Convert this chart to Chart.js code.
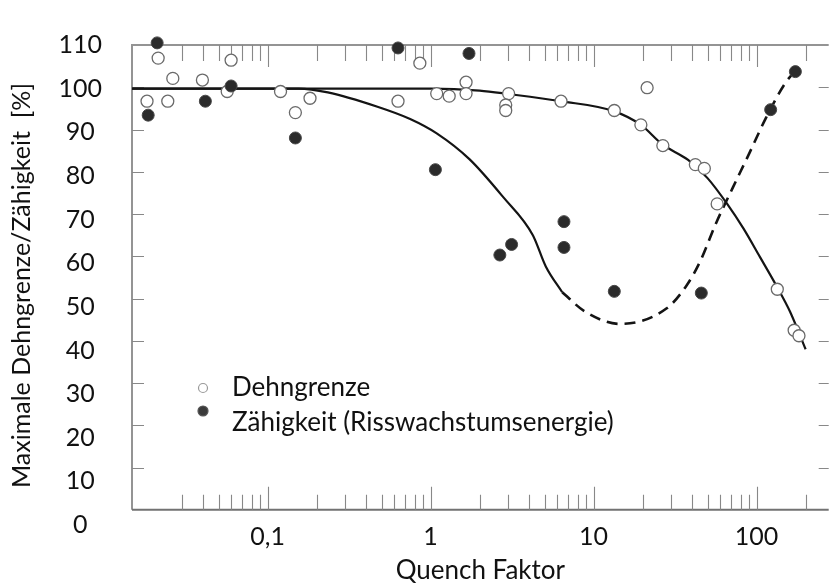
<!DOCTYPE html>
<html lang="de">
<head>
<meta charset="UTF-8">
<title>Quench Faktor</title>
<script src="https://cdn.jsdelivr.net/npm/chart.js@4.4.1/dist/chart.umd.min.js"></script>
<style>
  html, body { margin: 0; padding: 0; background: #fff; }
  #wrap { width: 836px; height: 588px; }
</style>
</head>
<body>
<div id="wrap"><canvas id="chart" width="836" height="588"></canvas></div>
<script>
// Messpunkte Dehngrenze (offene Kreise)
const dehnX = [0.0182, 0.0213, 0.0244, 0.0262, 0.0398, 0.0565, 0.0597, 0.120, 0.148, 0.182,
               0.631, 0.859, 1.09, 1.30, 1.65, 1.65, 3.01, 2.89, 2.89, 6.31,
               13.4, 21.3, 19.5, 26.6, 42.1, 47.8, 57.3, 134, 170, 182];
const dehnY = [96.7, 106.9, 96.7, 102.1, 101.7, 99.0, 106.4, 99.0, 94.0, 97.4,
               96.7, 105.7, 98.5, 97.9, 101.2, 98.5, 98.5, 95.8, 94.5, 96.7,
               94.5, 99.9, 91.1, 86.2, 81.7, 80.8, 72.4, 52.2, 42.5, 41.2];

// Messpunkte Zähigkeit (gefüllte Kreise)
const zaehX = [0.0185, 0.021, 0.0415, 0.0597, 0.148, 0.631, 1.07, 1.72, 2.66, 3.14,
               6.58, 6.58, 13.4, 45.8, 122, 173];
const zaehY = [93.4, 110.5, 96.7, 100.3, 88.0, 109.3, 80.5, 108.0, 60.3, 62.8,
               68.2, 62.1, 51.7, 51.3, 94.7, 103.7];

// Ausgleichskurven
const dehnKurveX = [0.0147, 1.0, 2.0, 3.0, 6.3, 13.4, 19.5, 26.6, 38, 50, 66, 83, 105, 132, 160, 200];
const dehnKurveY = [99.7, 99.7, 99.2, 98.4, 96.7, 94.3, 91.1, 86.4, 82.8, 78.5, 72.4, 66.6, 59.8, 53.1, 47.0, 38.0];

const zaehKurveX = [0.0147, 0.155, 0.234, 0.472, 0.749, 1.09, 1.73, 2.79, 4.24, 5.09, 6.42];
const zaehKurveY = [99.7, 99.7, 98.8, 95.4, 92.5, 89.1, 83.0, 74.0, 65.0, 57.6, 51.5];

const zaehStrichX = [6.42, 8.8, 14.5, 28.1, 37.2, 45.2, 56.5, 71.6, 90.8, 114, 150, 173];
const zaehStrichY = [51.5, 47.0, 44.0, 47.7, 53.1, 58.9, 67.9, 76.3, 84.6, 92.7, 101.0, 103.9];

// Achsen
const xTickWerte = [0.1, 1, 10, 100];
const xTickLabels = ['0,1', '1', '10', '100'];
const yTickWerte = [0, 10, 20, 30, 40, 50, 60, 70, 80, 90, 100, 110];

const schrift = 'Lato';

// Teilstriche der log. Achse (0,03 ... 200)
const teilstricheX = [];
[0.01, 0.1, 1, 10, 100].forEach(d => {
  for (let m = 1; m <= 9; m++) {
    const v = +(d * m).toPrecision(3);
    if (v >= 0.03 && v <= 200) teilstricheX.push(v);
  }
});

const punkte = (xs, ys) => xs.map((x, i) => ({ x: x, y: ys[i] }));

// Rahmen mit nach innen zeigenden Teilstrichen
const rahmen = {
  id: 'rahmen',
  beforeDatasetsDraw(chart) {
    const { ctx, chartArea: a, scales: { x, y } } = chart;
    const oben = y.getPixelForValue(110);
    const unten = y.getPixelForValue(0);
    ctx.save();
    ctx.strokeStyle = '#949494';
    ctx.lineWidth = 2;
    ctx.beginPath();
    ctx.moveTo(a.right, oben);
    ctx.lineTo(a.left, oben);
    ctx.lineTo(a.left, unten);
    ctx.stroke();
    ctx.strokeStyle = '#727272';
    ctx.beginPath();
    ctx.moveTo(a.left, unten);
    ctx.lineTo(a.right, unten);
    ctx.stroke();

    ctx.strokeStyle = '#888';
    ctx.lineWidth = 1.1;
    teilstricheX.forEach(v => {
      const px = Math.round(x.getPixelForValue(v)) + 0.5;
      const haupt = xTickWerte.includes(v);
      ctx.beginPath();
      ctx.moveTo(px, oben);
      ctx.lineTo(px, oben + (haupt ? 22 : 16));
      ctx.moveTo(px, unten);
      ctx.lineTo(px, unten - (haupt ? 23 : 15));
      ctx.stroke();
    });
    yTickWerte.filter(v => v > 0 && v < 110).forEach(v => {
      const py = Math.round(y.getPixelForValue(v)) + 0.5;
      ctx.beginPath();
      ctx.moveTo(a.left, py);
      ctx.lineTo(a.left + 12, py);
      ctx.moveTo(a.right, py);
      ctx.lineTo(a.right - 10, py);
      ctx.stroke();
    });
    ctx.restore();
  }
};

// Legende im Diagramm
const legende = {
  id: 'legende',
  afterDraw(chart) {
    const ctx = chart.ctx;
    ctx.save();
    ctx.lineWidth = 1.2;
    ctx.strokeStyle = '#9a9a9a';
    ctx.fillStyle = '#fff';
    ctx.beginPath();
    ctx.arc(203, 388, 4.5, 0, Math.PI * 2);
    ctx.fill();
    ctx.stroke();
    ctx.fillStyle = '#3a3a3a';
    ctx.strokeStyle = '#555';
    ctx.beginPath();
    ctx.arc(203, 411, 5, 0, Math.PI * 2);
    ctx.fill();
    ctx.stroke();

    ctx.fillStyle = '#111';
    ctx.font = '26px ' + schrift;
    ctx.textBaseline = 'middle';
    ctx.textAlign = 'left';
    ctx.fillText('Dehngrenze', 232, 388);
    ctx.fillText('Zähigkeit (Risswachstumsenergie)', 232, 423);
    ctx.restore();
  }
};

const kurve = {
  type: 'line',
  showLine: true,
  pointRadius: 0,
  borderColor: '#141414',
  borderWidth: 2.2,
  cubicInterpolationMode: 'monotone',
  fill: false,
  order: 2
};

new Chart(document.getElementById('chart'), {
  type: 'scatter',
  data: {
    datasets: [
      {
        label: 'Dehngrenze',
        data: punkte(dehnX, dehnY),
        pointRadius: 6,
        pointBackgroundColor: '#fff',
        pointBorderColor: '#6a6a6a',
        pointBorderWidth: 1.3,
        clip: false,
        order: 1
      },
      {
        label: 'Zähigkeit (Risswachstumsenergie)',
        data: punkte(zaehX, zaehY),
        pointRadius: 6,
        pointBackgroundColor: '#2b2b2b',
        pointBorderColor: '#474747',
        pointBorderWidth: 1,
        clip: false,
        order: 0
      },
      Object.assign({ label: 'Dehngrenze Kurve', data: punkte(dehnKurveX, dehnKurveY) }, kurve),
      Object.assign({ label: 'Zähigkeit Kurve', data: punkte(zaehKurveX, zaehKurveY) }, kurve),
      Object.assign({ label: 'Zähigkeit Kurve (gestrichelt)', data: punkte(zaehStrichX, zaehStrichY) }, kurve,
        { borderDash: [11, 7], borderWidth: 2.6 })
    ]
  },
  options: {
    responsive: false,
    animation: false,
    layout: { padding: { top: 20, right: 0, bottom: 0, left: 0 } },
    plugins: { legend: { display: false }, tooltip: { enabled: false } },
    scales: {
      x: {
        type: 'logarithmic',
        position: 'bottom',
        min: 0.01472,
        max: 277,
        grid: { display: false, drawTicks: false },
        border: { display: false },
        afterBuildTicks: s => { s.ticks = xTickWerte.map(v => ({ value: v })); },
        afterFit: s => { s.height = 62; },
        ticks: {
          autoSkip: false,
          maxRotation: 0,
          padding: -4,
          color: '#111',
          font: { family: schrift, size: 25 },
          callback: (v, i) => xTickLabels[i]
        },
        title: {
          display: true,
          text: 'Quench Faktor',
          color: '#111',
          font: { family: schrift, size: 26 },
          padding: { top: 0, bottom: 2 }
        }
      },
      y: {
        type: 'linear',
        display: false,
        min: -3.82,
        max: 110
      },
      yLab: {
        type: 'linear',
        position: 'left',
        min: -0.218,
        max: 110,
        grid: { display: false, drawTicks: false },
        border: { display: false },
        afterBuildTicks: s => { s.ticks = yTickWerte.map(v => ({ value: v })); },
        afterFit: s => { s.width = 132; },
        ticks: {
          crossAlign: 'center',
          padding: 30,
          color: '#111',
          font: { family: schrift, size: 25 }
        },
        title: {
          display: true,
          text: 'Maximale Dehngrenze/Zähigkeit  [%]',
          color: '#111',
          font: { family: schrift, size: 25 },
          padding: { top: 7, bottom: 0 }
        }
      }
    }
  },
  plugins: [rahmen, legende]
});
</script>
</body>
</html>
